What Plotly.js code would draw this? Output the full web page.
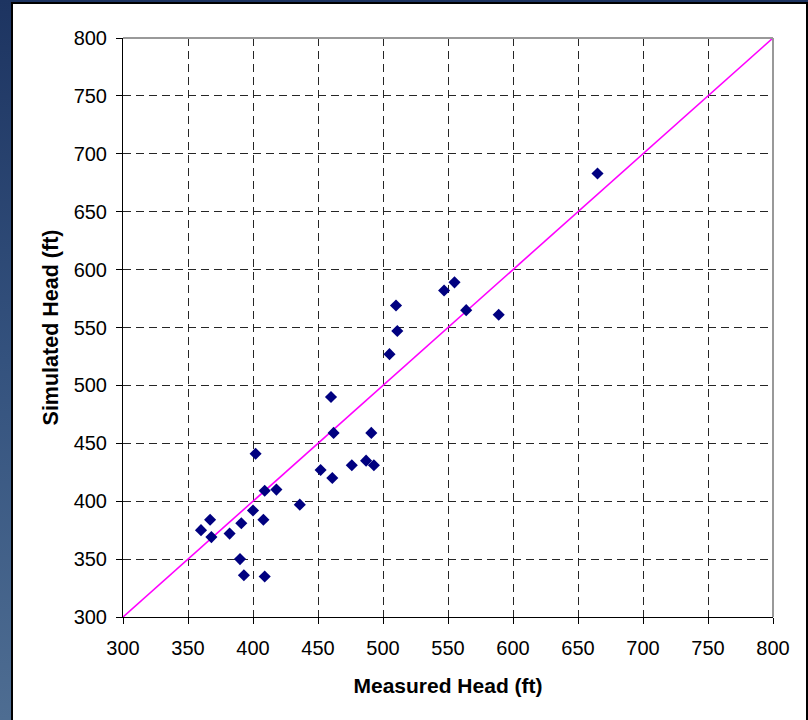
<!DOCTYPE html>
<html>
<head>
<meta charset="utf-8">
<script src="https://cdn.plot.ly/plotly-3.0.1.min.js"></script>
<style>
  html, body { margin: 0; padding: 0; width: 808px; height: 720px; overflow: hidden; }
  body { background: linear-gradient(to bottom, #1d3461 0%, #34527e 50%, #4e6d92 100%); position: relative; }
  #panel { position: absolute; left: 11px; top: 2px; width: 793px; height: 730px; background: #ffffff;
           border-left: 2px solid #000; border-top: 2px solid #000; border-right: 2px solid #000; }
  #chart { position: absolute; left: 0; top: 0; width: 808px; height: 720px; }
</style>
</head>
<body>
<div id="panel"></div>
<div id="chart"></div>
<script>
// Measured vs simulated heads (ft)
const measuredHead = [510, 511, 505, 547, 555, 564, 589, 665,
                      460, 462, 491, 452, 461, 476, 487, 493,
                      402, 409, 418, 436, 400, 408, 367, 360, 368, 382, 391, 390, 393, 409];
const simulatedHead = [569, 547, 527, 582, 589, 565, 561, 683,
                       490, 459, 459, 427, 420, 431, 435, 431,
                       441, 409, 410, 397, 392, 384, 384, 375, 369, 372, 381, 350, 336, 335];
// 1:1 reference line
const lineX = [300, 800];
const lineY = [300, 800];
const tickVals = [300, 350, 400, 450, 500, 550, 600, 650, 700, 750, 800];

const traces = [
  {
    x: lineX, y: lineY, type: 'scatter', mode: 'lines',
    line: { color: '#ff00ff', width: 1.6 }, hoverinfo: 'skip', cliponaxis: false
  },
  {
    x: measuredHead, y: simulatedHead, type: 'scatter', mode: 'markers',
    marker: { symbol: 'diamond', size: 9.3, color: '#000080', line: { width: 0 } }
  }
];

const axisCommon = {
  range: [300, 800],
  tickvals: tickVals,
  showgrid: true,
  gridcolor: '#262626',
  gridwidth: 1,
  griddash: '8px,5px',
  zeroline: false,
  showline: true,
  linecolor: '#000000',
  linewidth: 1,
  ticks: 'outside',
  ticklen: 6,
  tickcolor: '#000000',
  tickwidth: 1,
  tickfont: { family: 'Liberation Sans, Arial, sans-serif', size: 20, color: '#000000' },
  fixedrange: true
};

const layout = {
  width: 808, height: 720,
  margin: { l: 123, r: 35, t: 38, b: 103, pad: 0 },
  paper_bgcolor: 'rgba(0,0,0,0)',
  plot_bgcolor: '#ffffff',
  showlegend: false,
  xaxis: Object.assign({}, axisCommon, {
    ticklabelstandoff: 7,
    title: { text: 'Measured Head (ft)', standoff: 20,
             font: { family: 'Liberation Sans, Arial, sans-serif', size: 21, color: '#000000', weight: 'bold' } }
  }),
  yaxis: Object.assign({}, axisCommon, {
    ticklabelstandoff: 5,
    title: { text: 'Simulated Head (ft)', standoff: 9,
             font: { family: 'Liberation Sans, Arial, sans-serif', size: 21.5, color: '#000000', weight: 'bold' } }
  }),
  shapes: [
    { type: 'line', xref: 'paper', yref: 'paper', x0: 0, x1: 1, y0: 1, y1: 1, line: { color: '#999999', width: 2 } },
    { type: 'line', xref: 'paper', yref: 'paper', x0: 1, x1: 1, y0: 0, y1: 1, line: { color: '#999999', width: 2 } }
  ]
};

Plotly.newPlot('chart', traces, layout, { displayModeBar: false, staticPlot: true });
</script>
</body>
</html>
